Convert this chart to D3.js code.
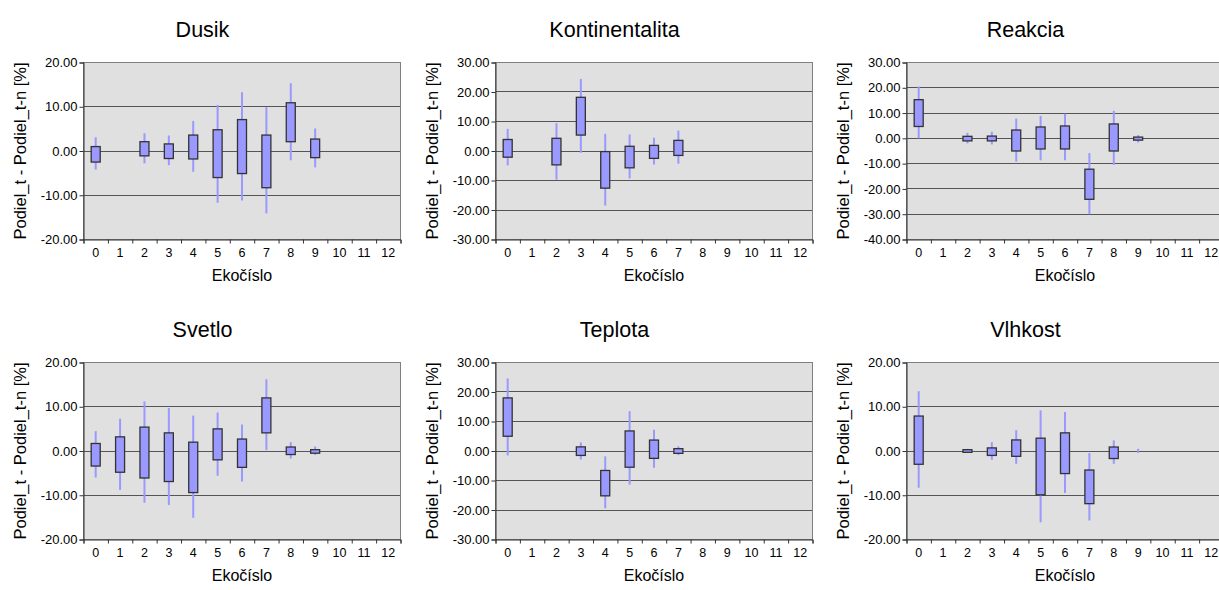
<!DOCTYPE html>
<html><head><meta charset="utf-8">
<script src="https://cdn.jsdelivr.net/npm/d3@7"></script>
<style>
body{margin:0;background:#fff}
svg{display:block}
text{font-family:Arial,"Liberation Sans",sans-serif;fill:#000}
</style>
</head><body>
<svg id="c" width="1219" height="590"></svg>
<script>
// ---- data ----
const categories = ["0","1","2","3","4","5","6","7","8","9","10","11","12"];
const panelTitles = ["Dusik","Kontinentalita","Reakcia","Svetlo","Teplota","Vlhkost"];
const xAxisTitle = "Ekočíslo";
const yAxisTitle = "Podiel_t - Podiel_t-n [%]";

const dusikBoxTop    = [1.0, null, 2.1, 1.6, 3.6, 4.8, 7.1, 3.6, 10.9, 2.7, null, null, null];
const dusikBoxBottom = [-2.5, null, -1.1, -1.7, -1.8, -6.0, -5.1, -8.3, 2.1, -1.5, null, null, null];
const dusikHigh      = [3.1, null, 4.0, 3.5, 6.8, 10.4, 13.3, 9.9, 15.3, 5.1, null, null, null];
const dusikLow       = [-4.2, null, -2.8, -3.2, -4.7, -11.7, -11.2, -14.1, -2.1, -3.7, null, null, null];
const dusikTicks     = [-20, -10, 0, 10, 20];

const kontBoxTop    = [3.9, null, 4.3, 18.2, -0.2, 1.6, 1.9, 3.6, null, null, null, null, null];
const kontBoxBottom = [-2.1, null, -4.7, 5.4, -12.6, -5.7, -2.5, -1.5, null, null, null, null, null];
const kontHigh      = [7.5, null, 9.4, 24.4, 5.8, 5.6, 4.5, 6.9, null, null, null, null, null];
const kontLow       = [-4.9, null, -9.7, -0.6, -18.5, -9.3, -4.6, -4.3, null, null, null, null, null];
const kontTicks     = [-30, -20, -10, 0, 10, 20, 30];

const reakBoxTop    = [15.3, null, 0.8, 0.9, 3.3, 4.5, 4.9, -12.2, 5.7, 0.5, null, null, null];
const reakBoxBottom = [4.7, null, -1.0, -1.0, -5.0, -4.2, -4.2, -24.1, -5.0, -0.7, null, null, null];
const reakHigh      = [20.5, null, 2.2, 2.6, 7.8, 8.9, 9.7, -5.8, 10.9, 1.3, null, null, null];
const reakLow       = [0.0, null, -2.0, -2.4, -9.2, -8.7, -8.7, -30.0, -10.5, -1.6, null, null, null];
const reakTicks     = [-40, -30, -20, -10, 0, 10, 20, 30];

const svetBoxTop    = [1.7, 3.2, 5.4, 4.1, 2.0, 5.0, 2.7, 12.0, 0.9, 0.3, null, null, null];
const svetBoxBottom = [-3.4, -4.8, -6.1, -6.9, -9.4, -2.0, -3.7, 4.1, -0.8, -0.5, null, null, null];
const svetHigh      = [4.5, 7.3, 11.2, 9.7, 8.0, 8.7, 6.0, 16.2, 2.0, 1.0, null, null, null];
const svetLow       = [-6.0, -8.8, -11.7, -12.2, -15.1, -5.6, -6.9, 0.2, -1.7, -0.9, null, null, null];
const svetTicks     = [-20, -10, 0, 10, 20];

const teplBoxTop    = [18.0, null, null, 1.4, -6.6, 6.8, 3.7, 0.8, null, null, null, null, null];
const teplBoxBottom = [5.0, null, null, -1.5, -15.2, -5.5, -2.5, -0.8, null, null, null, null, null];
const teplHigh      = [24.6, null, null, 2.9, -1.8, 13.5, 7.2, 1.6, null, null, null, null, null];
const teplLow       = [-1.5, null, null, -2.9, -19.4, -11.4, -5.7, -1.4, null, null, null, null, null];
const teplTicks     = [-30, -20, -10, 0, 10, 20, 30];

const vlhkBoxTop    = [7.9, null, 0.3, 0.7, 2.5, 2.9, 4.1, -4.3, 0.9, null, null, null, null];
const vlhkBoxBottom = [-3.0, null, -0.3, -1.0, -1.2, -9.9, -5.1, -11.9, -1.7, null, null, null, null];
const vlhkHigh      = [13.5, null, 0.5, 2.0, 4.7, 9.2, 8.8, -0.45, 2.4, 0.5, null, null, null];
const vlhkLow       = [-8.3, null, -0.45, -2.0, -2.9, -16.1, -9.5, -15.7, -2.9, -0.45, null, null, null];
const vlhkTicks     = [-20, -10, 0, 10, 20];

// ---- layout ----
const panels = [
  {title: panelTitles[0], top: dusikBoxTop, bottom: dusikBoxBottom, high: dusikHigh, low: dusikLow, ticks: dusikTicks, left: 83, y0: 62.5},
  {title: panelTitles[1], top: kontBoxTop, bottom: kontBoxBottom, high: kontHigh, low: kontLow, ticks: kontTicks, left: 495, y0: 62.5},
  {title: panelTitles[2], top: reakBoxTop, bottom: reakBoxBottom, high: reakHigh, low: reakLow, ticks: reakTicks, left: 906, y0: 62.5},
  {title: panelTitles[3], top: svetBoxTop, bottom: svetBoxBottom, high: svetHigh, low: svetLow, ticks: svetTicks, left: 83, y0: 362.5},
  {title: panelTitles[4], top: teplBoxTop, bottom: teplBoxBottom, high: teplHigh, low: teplLow, ticks: teplTicks, left: 495, y0: 362.5},
  {title: panelTitles[5], top: vlhkBoxTop, bottom: vlhkBoxBottom, high: vlhkHigh, low: vlhkLow, ticks: vlhkTicks, left: 906, y0: 362.5}
];
const W = 317, H = 177;
const svg = d3.select("#c");

panels.forEach(p => {
  const g = svg.append("g").attr("transform", `translate(${p.left + 0.5},${p.y0})`);
  const x = d3.scaleBand().domain(categories).range([0, W]);
  const xb = d3.scaleLinear().domain([0, categories.length]).range([0, W]);
  const y = d3.scaleLinear().domain(d3.extent(p.ticks)).range([H, 0]);

  g.append("rect").attr("width", W).attr("height", H).attr("fill", "#e0e0e0");

  // gridlines
  g.selectAll("line.grid").data(p.ticks.slice(1, -1)).join("line")
    .attr("x1", 0).attr("x2", W)
    .attr("y1", d => Math.round(y(d))).attr("y2", d => Math.round(y(d)))
    .attr("stroke", "#555").attr("stroke-width", 1.2);

  const rows = categories.map((c, i) => ({c, t: p.top[i], b: p.bottom[i], h: p.high[i], l: p.low[i]}));

  // high-low lines
  g.selectAll("line.hl").data(rows.filter(r => r.h != null)).join("line")
    .attr("x1", r => x(r.c) + x.bandwidth() / 2).attr("x2", r => x(r.c) + x.bandwidth() / 2)
    .attr("y1", r => y(r.h)).attr("y2", r => y(r.l))
    .attr("stroke", "#9999ff").attr("stroke-width", 2);

  // up/down bars
  g.selectAll("rect.box").data(rows.filter(r => r.t != null)).join("rect")
    .attr("x", r => x(r.c) + x.bandwidth() / 2 - 4.5)
    .attr("width", 9)
    .attr("y", r => y(Math.max(r.t, r.b)))
    .attr("height", r => Math.abs(y(r.t) - y(r.b)))
    .attr("fill", "#9999ff").attr("stroke", "#333").attr("stroke-width", 1.3);

  // border
  g.append("rect").attr("width", W).attr("height", H).attr("fill", "none").attr("stroke", "#808080").attr("stroke-width", 1);

  // y axis
  const ya = g.append("g").call(d3.axisLeft(y).tickValues(p.ticks).tickSize(4).tickPadding(2).tickFormat(d => d.toFixed(2)));
  ya.select(".domain").attr("stroke", "#333");
  ya.selectAll(".tick line").attr("stroke", "#333");
  ya.selectAll("text").attr("font-size", 13).attr("font-family", "Arial, 'Liberation Sans', sans-serif").attr("fill", "#000");

  // x axis: boundary ticks
  const xt = g.append("g").attr("transform", `translate(0,${H})`)
    .call(d3.axisBottom(xb).tickValues(d3.range(categories.length + 1)).tickSize(4).tickFormat(""));
  xt.select(".domain").attr("stroke", "#333");
  xt.selectAll(".tick line").attr("stroke", "#333");

  // x labels
  const xl = g.append("g").attr("transform", `translate(0,${H})`)
    .call(d3.axisBottom(x).tickSize(0).tickPadding(9));
  xl.select(".domain").remove();
  xl.selectAll("text").attr("font-size", 12.5).attr("font-family", "Arial, 'Liberation Sans', sans-serif").attr("fill", "#000");

  // titles
  g.append("text").attr("x", 119).attr("y", -26).attr("text-anchor", "middle")
    .attr("font-size", 21.5).text(p.title);
  g.append("text").attr("x", W / 2).attr("y", H + 41).attr("text-anchor", "middle")
    .attr("font-size", 16).text(xAxisTitle);
  g.append("text").attr("transform", `translate(-58,${H / 2}) rotate(-90)`).attr("text-anchor", "middle")
    .attr("font-size", 16.5).text(yAxisTitle);
});
</script>
</body></html>
